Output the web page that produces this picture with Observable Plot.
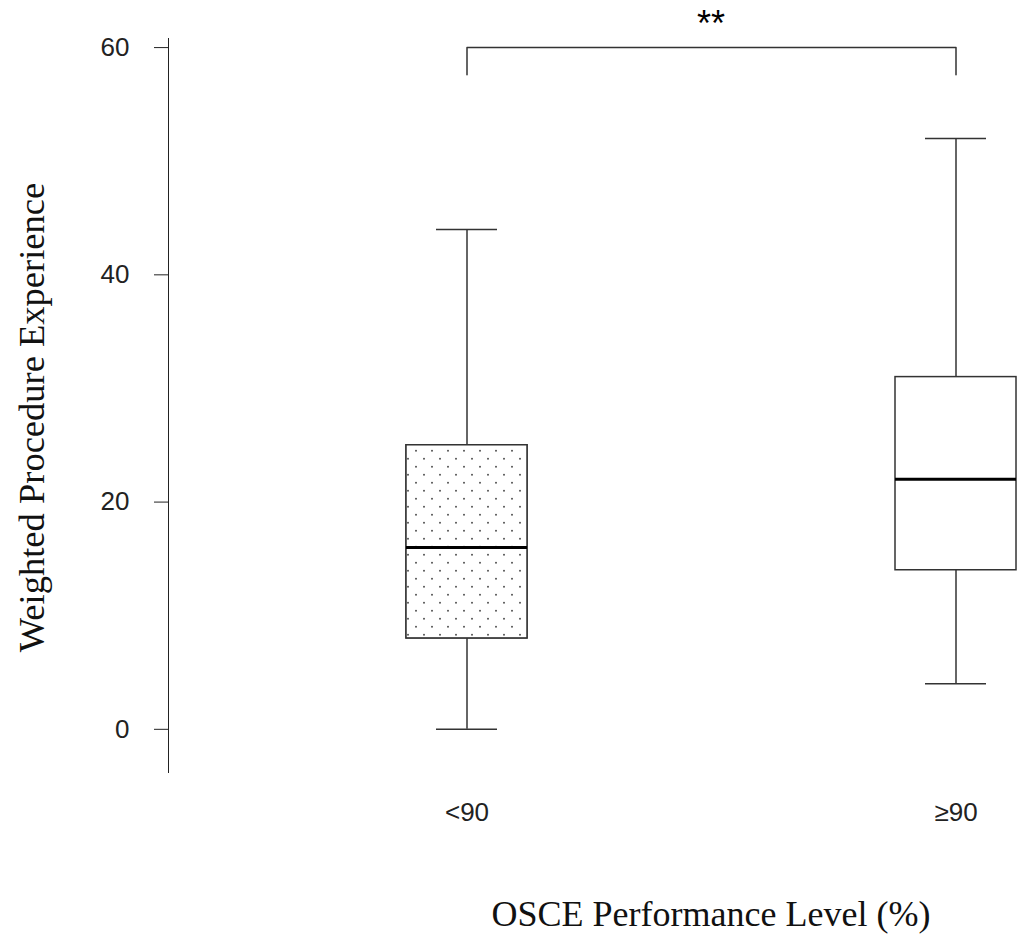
<!DOCTYPE html>
<html>
<head>
<meta charset="utf-8">
<script src="https://cdn.jsdelivr.net/npm/d3@7"></script>
<script src="https://cdn.jsdelivr.net/npm/@observablehq/plot@0.6"></script>
<style>
  html, body { margin: 0; padding: 0; background: #fff; }
  #chart svg { display: block; }
  #chart g[aria-label="y-axis tick label"] text,
  #chart g[aria-label="x-axis tick label"] text { font-size: 26px; }
</style>
</head>
<body>
<div id="chart"></div>
<script>
// ---- data ----
const groups = ["<90", "≥90"];
const whiskerLow = [0, 4];
const q1 = [8, 14];
const median = [16, 22];
const q3 = [25, 31];
const whiskerHigh = [44, 52];
const fillPattern = ["dots", "none"];
const yTicks = [0, 20, 40, 60];
const sigFrom = "<90";
const sigTo = "≥90";
const sigTop = 60;
const sigTip = 57.6;
const sigLabel = "**";
const yTitle = "Weighted Procedure Experience";
const xTitle = "OSCE Performance Level (%)";

const stats = groups.map((g, i) => ({
  g, lo: whiskerLow[i], q1: q1[i], med: median[i], q3: q3[i], hi: whiskerHigh[i], pattern: fillPattern[i]
}));
const bracket = [
  {g: sigFrom, y: sigTip}, {g: sigFrom, y: sigTop},
  {g: sigTo, y: sigTop}, {g: sigTo, y: sigTip}
];

const INK = "#333";

// text centred between the two groups, placed with the plot's own x scale
function midText(label, yPos, style) {
  return (index, scales, values, dim) => {
    const bw = scales.x.bandwidth ? scales.x.bandwidth() : 0;
    const cx = (scales.x(sigFrom) + scales.x(sigTo) + bw) / 2;
    const cy = yPos(scales, dim);
    const t = d3.create("svg:text")
      .attr("x", cx).attr("y", cy)
      .attr("text-anchor", "middle")
      .text(label);
    for (const [k, v] of Object.entries(style)) t.attr(k, v);
    return t.node();
  };
}

const chart = Plot.plot({
  width: 1021,
  height: 935,
  marginLeft: 168,
  marginRight: 0,
  marginTop: 38,
  marginBottom: 163,
  style: {fontFamily: "'Liberation Sans', Arial, sans-serif", fontSize: "26px", color: "#222", background: "#fff"},
  x: {
    type: "band",
    domain: groups,
    range: [221.5, 1199.5],
    paddingInner: 0.7526,
    paddingOuter: 0.3763,
    align: 0.5,
    label: null,
    tickSize: 0,
    tickPadding: 30
  },
  y: {
    domain: [-3.8, 60.8],
    ticks: yTicks,
    tickSize: 14,
    tickPadding: 25,
    line: true,
    label: null
  },
  marks: [
    // whiskers
    Plot.ruleX(stats, {x: "g", y1: "lo", y2: "q1", stroke: INK, strokeWidth: 1.5}),
    Plot.ruleX(stats, {x: "g", y1: "q3", y2: "hi", stroke: INK, strokeWidth: 1.5}),
    Plot.tickY(stats, {x: "g", y: "lo", stroke: INK, strokeWidth: 1.5, insetLeft: 30, insetRight: 30}),
    Plot.tickY(stats, {x: "g", y: "hi", stroke: INK, strokeWidth: 1.5, insetLeft: 30, insetRight: 30}),
    // boxes
    Plot.barY(stats, {x: "g", y1: "q1", y2: "q3", fill: "white", stroke: INK, strokeWidth: 1.5}),
    Plot.barY(stats, {x: "g", y1: "q1", y2: "q3", fill: "url(#dots)", stroke: INK, strokeWidth: 1.5,
      filter: d => d.pattern === "dots"}),
    // medians
    Plot.tickY(stats, {x: "g", y: "med", stroke: "#000", strokeWidth: 3}),
    // significance bracket
    Plot.line(bracket, {x: "g", y: "y", stroke: INK, strokeWidth: 1.5}),
    // y title
    Plot.text([yTitle], {frameAnchor: "left", dx: -136, dy: 12, rotate: -90, text: d => d,
      textAnchor: "middle", lineAnchor: "middle",
      fontFamily: "'Liberation Serif', 'Times New Roman', serif", fontSize: 36.5, fill: "#111"}),
    // significance label
    midText(sigLabel, (s) => s.y(sigTop) - 11.5, {"font-size": 36, "font-family": "'Liberation Sans', Arial, sans-serif", fill: "#000"}),
    // x title
    midText(xTitle, (s, dim) => dim.height - 9, {"font-size": 36, "font-family": "'Liberation Serif', 'Times New Roman', serif", fill: "#111"})
  ]
});

// dotted fill pattern
const defs = d3.select(chart).insert("defs", ":first-child");
const pat = defs.append("pattern")
  .attr("id", "dots")
  .attr("patternUnits", "userSpaceOnUse")
  .attr("width", 16).attr("height", 16);
pat.append("rect").attr("width", 16).attr("height", 16).attr("fill", "white");
[[0, 2.7], [16, 2.7], [8, 10.7]].forEach(([cx, cy]) =>
  pat.append("circle").attr("cx", cx).attr("cy", cy).attr("r", 1).attr("fill", "#555"));

document.getElementById("chart").appendChild(chart);
</script>
</body>
</html>
